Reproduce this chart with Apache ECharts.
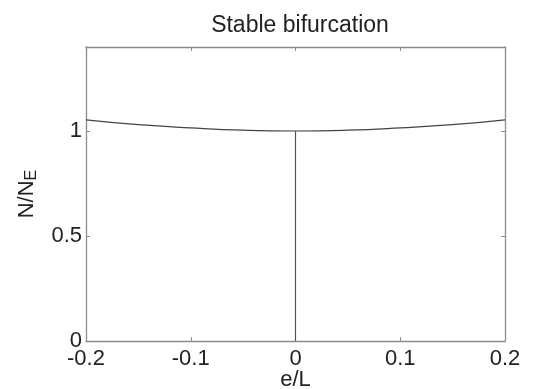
<!DOCTYPE html>
<html>
<head>
<meta charset="utf-8">
<script src="https://cdn.jsdelivr.net/npm/echarts@6/dist/echarts.min.js"></script>
<style>
  html, body { margin: 0; padding: 0; background: #fff; }
  #chart { width: 537px; height: 389px; }
</style>
</head>
<body>
<div id="chart"></div>
<script>
// values
var eL = [-0.2, -0.15, -0.1, -0.05, 0, 0.05, 0.1, 0.15, 0.2];
var ratio = [1.053, 1.03, 1.015, 1.004, 1.0, 1.004, 1.015, 1.03, 1.053];
// vertical branch at e/L = 0
var stemX = [0, 0];
var stemY = [0, 1];
var xTicks = [-0.2, -0.1, 0, 0.1, 0.2];
var yTicks = [0, 0.5, 1];

var chart = echarts.init(document.getElementById('chart'));

var axisColor = '#8c8c8c';
var textColor = '#222';
var font = 'Liberation Sans';

function pairs(xs, ys) {
    return xs.map(function (x, i) { return [x, ys[i]]; });
}

// box axes (top/right) carry ticks only, like a matlab figure
function boxAxis(extra) {
    return Object.assign({
        type: 'value',
        axisLine: { show: true, onZero: false, lineStyle: { color: axisColor, width: 1.3 } },
        axisTick: { show: true, inside: true, length: 4, lineStyle: { color: axisColor } },
        axisLabel: { show: false },
        splitLine: { show: false }
    }, extra);
}

option = {
    animation: false,
    title: {
        text: 'Stable bifurcation',
        left: 295,
        textAlign: 'center',
        top: 9,
        textStyle: { fontFamily: font, fontSize: 23, fontWeight: 'normal', color: textColor }
    },
    grid: { left: 86, right: 32, top: 47, bottom: 48, containLabel: false, outerBoundsMode: 'none' },
    xAxis: [
        {
            type: 'value',
            min: xTicks[0],
            max: xTicks[xTicks.length - 1],
            interval: 0.1,
            name: 'e/L',
            nameLocation: 'middle',
            nameGap: 28,
            nameMoveOverlap: false,
            nameTextStyle: { fontFamily: font, fontSize: 22, color: textColor },
            axisLine: { onZero: false, lineStyle: { color: axisColor, width: 1.3 } },
            axisTick: { inside: true, length: 4, lineStyle: { color: axisColor } },
            axisLabel: { fontFamily: font, fontSize: 22, color: textColor, margin: 7 },
            splitLine: { show: false }
        },
        boxAxis({ position: 'top', min: xTicks[0], max: xTicks[xTicks.length - 1], interval: 0.1 })
    ],
    yAxis: [
        {
            type: 'value',
            min: yTicks[0],
            max: 1.4,
            interval: 0.5,
            name: '{a|N/N}{b|E}',
            nameLocation: 'middle',
            nameRotate: 90,
            nameGap: 46,
            nameMoveOverlap: false,
            nameTextStyle: {
                rich: {
                    a: { fontFamily: font, fontSize: 22, color: textColor, lineHeight: 26 },
                    b: { fontFamily: font, fontSize: 16, color: textColor, verticalAlign: 'bottom', padding: [8, 0, 0, 0] }
                }
            },
            axisLine: { onZero: false, lineStyle: { color: axisColor, width: 1.3 } },
            axisTick: { inside: true, length: 4, lineStyle: { color: axisColor } },
            axisLabel: { fontFamily: font, fontSize: 22, color: textColor, margin: 4, showMaxLabel: false },
            splitLine: { show: false }
        },
        boxAxis({ position: 'right', min: yTicks[0], max: 1.4, interval: 0.5 })
    ],
    series: [
        {
            type: 'line',
            data: pairs(eL, ratio),
            smooth: true,
            symbol: 'none',
            lineStyle: { color: '#444', width: 1.2 }
        },
        {
            type: 'line',
            data: pairs(stemX, stemY),
            symbol: 'none',
            lineStyle: { color: '#555', width: 1.2 }
        }
    ]
};

chart.setOption(option);
</script>
</body>
</html>
